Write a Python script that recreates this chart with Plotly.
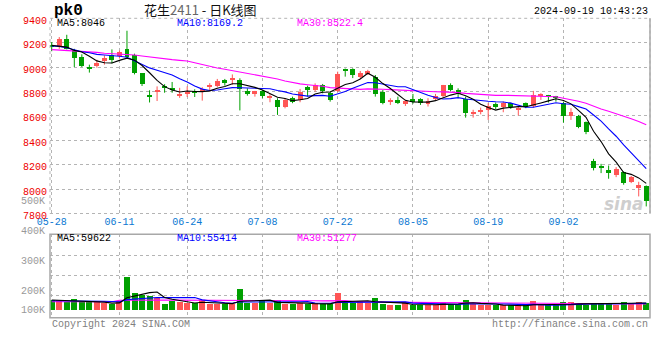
import plotly.graph_objects as go

# ---------------- data ----------------
dates = ["05-28", "05-29", "05-30", "05-31",
         "06-03", "06-04", "06-05", "06-06", "06-07",
         "06-11", "06-12", "06-13", "06-14",
         "06-17", "06-18", "06-19", "06-20", "06-21",
         "06-24", "06-25", "06-26", "06-27", "06-28",
         "07-01", "07-02", "07-03", "07-04", "07-05",
         "07-08", "07-09", "07-10", "07-11", "07-12",
         "07-15", "07-16", "07-17", "07-18", "07-19",
         "07-22", "07-23", "07-24", "07-25", "07-26",
         "07-29", "07-30", "07-31", "08-01", "08-02",
         "08-05", "08-06", "08-07", "08-08", "08-09",
         "08-12", "08-13", "08-14", "08-15", "08-16",
         "08-19", "08-20", "08-21", "08-22", "08-23",
         "08-26", "08-27", "08-28", "08-29", "08-30",
         "09-02", "09-03", "09-04", "09-05", "09-06",
         "09-09", "09-10", "09-11", "09-12", "09-13",
         "09-18", "09-19"]

opens = [9180, 9165, 9227, 9137, 9083, 8995, 9003, 9047, 9096, 9091,
         9145, 9100, 8946, 8765, 8790, 8842, 8829, 8757, 8777, 8798,
         8800, 8838, 8846, 8889, 8898, 8895, 8805, 8780, 8799, 8750,
         8731, 8668, 8745, 8731, 8832, 8813, 8854, 8786, 8800, 8985,
         8985, 8917, 8944, 8917, 8794, 8720, 8726, 8692, 8736, 8736,
         8696, 8737, 8758, 8854, 8813, 8739, 8618, 8638, 8650, 8695,
         8672, 8704, 8655, 8704, 8677, 8764, 8767, 8758, 8704, 8595,
         8600, 8545, 8232, 8180, 8158, 8117, 8139, 8057, 8005, 8020]
highs = [9205, 9246, 9265, 9150, 9105, 9020, 9060, 9096, 9145, 9135,
         9298, 9110, 8950, 8810, 8842, 8860, 8878, 8830, 8842, 8818,
         8835, 8868, 8903, 8903, 8940, 8908, 8826, 8805, 8813, 8780,
         8745, 8745, 8758, 8821, 8848, 8867, 8862, 8800, 8963, 8988,
         8990, 8968, 8978, 8935, 8812, 8745, 8758, 8731, 8780, 8745,
         8745, 8780, 8854, 8867, 8826, 8758, 8650, 8668, 8704, 8710,
         8717, 8710, 8677, 8710, 8805, 8786, 8772, 8764, 8717, 8663,
         8608, 8554, 8248, 8207, 8193, 8180, 8145, 8109, 8060, 8030]
lows = [9130, 9150, 9145, 9000, 9000, 8955, 8995, 9020, 9030, 9070,
        9080, 8940, 8845, 8710, 8722, 8790, 8790, 8748, 8755, 8755,
        8725, 8800, 8835, 8848, 8855, 8645, 8766, 8758, 8745, 8712,
        8608, 8662, 8704, 8712, 8758, 8799, 8785, 8717, 8795, 8922,
        8910, 8903, 8935, 8758, 8695, 8690, 8697, 8682, 8700, 8690,
        8677, 8725, 8752, 8800, 8745, 8586, 8586, 8613, 8567, 8655,
        8630, 8657, 8603, 8663, 8668, 8731, 8710, 8717, 8545, 8567,
        8499, 8450, 8153, 8131, 8085, 8098, 8036, 8049, 7940, 7858]
closes = [9160, 9227, 9150, 9069, 9010, 8990, 9035, 9075, 9056, 9120,
          9083, 8950, 8856, 8760, 8810, 8823, 8812, 8777, 8796, 8793,
          8818, 8842, 8886, 8868, 8902, 8818, 8781, 8799, 8758, 8755,
          8668, 8731, 8712, 8794, 8808, 8854, 8800, 8726, 8942, 8963,
          8930, 8949, 8963, 8780, 8704, 8725, 8705, 8723, 8710, 8705,
          8723, 8764, 8848, 8813, 8778, 8622, 8624, 8643, 8676, 8672,
          8704, 8668, 8660, 8668, 8767, 8769, 8753, 8746, 8595, 8630,
          8505, 8466, 8172, 8175, 8126, 8164, 8044, 8095, 8030, 7900]
volumes = [82000, 82000, 61000, 89500, 61000, 61000, 61000, 56000, 51000, 69000,
           258000, 135000, 117000, 112000, 92000, 51000, 69000, 61000, 56000, 59000,
           76500, 51000, 51000, 46000, 46000, 166000, 56000, 56000, 69000, 56000,
           82000, 51000, 51000, 56000, 51000, 56000, 46000, 51000, 135000, 61000,
           56000, 74000, 56000, 97000, 51000, 43600, 43600, 56000, 43600, 43600,
           43600, 43600, 66600, 51000, 51000, 82000, 51000, 43600, 43600, 38300,
           38300, 38300, 38300, 38300, 74000, 38300, 38300, 38300, 66600, 66600,
           51000, 38300, 59000, 59000, 59000, 43600, 66600, 59000, 66600, 59000]

# moving-average values at the left edge (they depend on days before the window)
ma5_head = [9178, 9173, 9164, 9137]
ma10_head = [9173, 9170, 9159, 9143, 9126, 9118, 9104, 9099, 9096]
ma30_head = [9143, 9140, 9137, 9134, 9132, 9129, 9121, 9113, 9110, 9104,
             9102, 9099, 9091, 9083, 9072, 9066, 9061, 9055, 9050, 9035,
             9020, 9005, 8993, 8982, 8971, 8960, 8950, 8940, 8930]
vma5_head = [82000, 80000, 78000, 78000]
vma10_head = [76000, 76000, 76000, 75000, 75000, 74000, 73000, 72000, 70000]
vma30_head = [69000, 69000, 69000, 69000, 69000, 69000, 69000, 69000, 69000, 80000,
              81000, 81000, 81000, 81000, 81000, 81000, 81000, 81000, 81000, 80000,
              80000, 80000, 80000, 79000, 79000, 79000, 79000, 79000, 79000]

axis_dates = ["05-28", "06-11", "06-24", "07-08", "07-22", "08-05", "08-19", "09-02"]
price_ticks = [7800, 8000, 8200, 8400, 8600, 8800, 9000, 9200, 9400]
vol_labels = ["500K", "400K", "300K", "200K", "100K"]

title_code = "pk0"
title_text = "花生<span style='color:#666'>2411</span> - 日K线图"
timestamp = "2024-09-19 10:43:23"
price_legend = ["MA5:8046", "MA10:8169.2", "MA30:8522.4"]
vol_legend = ["MA5:59622", "MA10:55414", "MA30:51277"]

# ---------------- styling ----------------
RED = "#ff5555"
GREEN = "#00a000"
MA_COLORS = ["#000000", "#0000ff", "#ff00ff"]
GRID = "#b4b4b4"
BORDER = "#a8a8a8"
MONO = "Liberation Mono"
W, H = 660, 360
PX_L, PX_R = 50, 650
PRICE_TOP, PRICE_BOT = 18.3, 213.5
VOL_TOP, VOL_BOT, VOL_BASE = 234.3, 317.7, 310.7
VOL_PER_PX = 7650


def fx(px):
    return px / W


def fy(py):
    return 1 - py / H


def moving(values, n, head):
    out = list(head)
    for i in range(len(head), len(values)):
        seg = values[i - n + 1:i + 1]
        out.append(sum(seg) / len(seg))
    return out


up = [c >= o for o, c in zip(opens, closes)]
colors = [RED if u else GREEN for u in up]

fig = go.Figure()

# wicks
for flag, col in [(True, RED), (False, GREEN)]:
    xs, ys = [], []
    for d, hi, lo, u in zip(dates, highs, lows, up):
        if u == flag:
            xs += [d, d, None]
            ys += [lo, hi, None]
    fig.add_trace(go.Scatter(x=xs, y=ys, mode="lines", line=dict(color=col, width=1),
                             xaxis="x", yaxis="y", showlegend=False, hoverinfo="skip"))

# bodies
bases, heights = [], []
for o, c in zip(opens, closes):
    lo, hi = min(o, c), max(o, c)
    if hi - lo < 9:
        mid = (o + c) / 2
        lo, hi = mid - 4.5, mid + 4.5
    bases.append(lo)
    heights.append(hi - lo)
fig.add_trace(go.Bar(x=dates, y=heights, base=bases, width=0.66,
                     marker=dict(color=colors, line=dict(width=0)),
                     xaxis="x", yaxis="y", showlegend=False, hoverinfo="skip"))

# price MAs
for n, head, col in [(30, ma30_head, MA_COLORS[2]), (10, ma10_head, MA_COLORS[1]),
                     (5, ma5_head, MA_COLORS[0])]:
    fig.add_trace(go.Scatter(x=dates, y=moving(closes, n, head), mode="lines",
                             line=dict(color=col, width=1.1),
                             xaxis="x", yaxis="y", showlegend=False, hoverinfo="skip"))

# volume bars
fig.add_trace(go.Bar(x=dates, y=volumes, width=0.8,
                     marker=dict(color=colors, line=dict(width=0)),
                     xaxis="x2", yaxis="y2", showlegend=False, hoverinfo="skip"))
for n, head, col in [(30, vma30_head, MA_COLORS[2]), (10, vma10_head, MA_COLORS[1]),
                     (5, vma5_head, MA_COLORS[0])]:
    fig.add_trace(go.Scatter(x=dates, y=moving(volumes, n, head), mode="lines",
                             line=dict(color=col, width=1.1),
                             xaxis="x2", yaxis="y2", showlegend=False, hoverinfo="skip"))

vol_lo = -(VOL_BOT - VOL_BASE) * VOL_PER_PX
vol_hi = (VOL_BASE - VOL_TOP) * VOL_PER_PX
vol_grid = [(VOL_BASE - py) * VOL_PER_PX for py in (255, 275, 295)]

common_x = dict(type="category", categoryorder="array", categoryarray=dates,
                range=[-0.23, 79.5], domain=[fx(PX_L), fx(PX_R)], automargin=False,
                tickvals=axis_dates, showgrid=True, gridcolor=GRID, griddash="dot",
                gridwidth=1, zeroline=False, showline=False, ticks="")

fig.update_layout(
    width=W, height=H, margin=dict(l=0, r=0, t=0, b=0, autoexpand=False),
    paper_bgcolor="white", plot_bgcolor="white", hovermode=False,
    bargap=0, barmode="overlay",
    xaxis=dict(**common_x, anchor="y", showticklabels=True, ticktext=axis_dates,
               tickfont=dict(family=MONO, size=10, color="#0a78d2")),
    yaxis=dict(domain=[fy(PRICE_BOT), fy(PRICE_TOP)], range=[7800, 9400], automargin=False,
               tickvals=price_ticks, showgrid=True, gridcolor=GRID, griddash="dot",
               zeroline=False, showline=False, ticks="",
               tickfont=dict(family=MONO, size=10, color="#ee0000"),
               ticklabelshift=2, ticklabelstandoff=2),
    xaxis2=dict(**common_x, anchor="y2", matches="x", showticklabels=False),
    yaxis2=dict(domain=[fy(VOL_BOT), fy(VOL_TOP)], range=[vol_lo, vol_hi], automargin=False,
                tickvals=vol_grid, showticklabels=False, showgrid=True,
                gridcolor=GRID, griddash="dot", zeroline=False, showline=False, ticks=""),
)

shapes = [
    dict(type="rect", xref="paper", yref="paper", x0=fx(PX_L), x1=fx(PX_R),
         y0=fy(PRICE_BOT), y1=fy(PRICE_TOP), line=dict(color=GRID, width=1, dash="dot")),
    dict(type="line", xref="paper", yref="paper", x0=fx(PX_R), x1=fx(PX_R),
         y0=fy(PRICE_BOT), y1=fy(PRICE_TOP), line=dict(color=BORDER, width=1.5)),
    dict(type="rect", xref="paper", yref="paper", x0=fx(PX_L), x1=fx(PX_R),
         y0=fy(VOL_BOT), y1=fy(VOL_TOP), line=dict(color=BORDER, width=1.5)),
]
fig.update_layout(shapes=shapes)

ann = []


def text(s, x, y, color="#000", size=10, anchor="left", family=MONO, bold=False):
    ann.append(dict(text=("<b>%s</b>" % s) if bold else s, x=fx(x), y=fy(y),
                    xref="paper", yref="paper", xanchor=anchor, yanchor="middle",
                    showarrow=False, font=dict(family=family, size=size, color=color)))


text(title_code, 52, 11, size=16, bold=True)
text(title_text, 200, 9, size=13, anchor="center", family="Noto Sans CJK SC", color="#111")
text(timestamp, 650, 12, anchor="right")
for s, x, c in zip(price_legend, (55, 175, 295), MA_COLORS):
    text(s, x, 24, color=c)
for s, x, c in zip(vol_legend, (55, 175, 295), MA_COLORS):
    text(s, x, 238, color=c)
for s, y in zip(vol_labels, (201, 231, 261, 291, 310)):
    text(s, 47, y, color="#999999", anchor="right")
text("Copyright 2024 SINA.COM", 50, 324, color="#808080")
text("http://finance.sina.com.cn", 650, 324, color="#808080", anchor="right")
text("<i>sina</i>", 624, 204, color="rgba(190,190,190,0.75)", size=17,
     anchor="center", family="DejaVu Sans", bold=True)
fig.update_layout(annotations=ann)

fig.write_html("out.html", config={"displayModeBar": False},
               post_script="document.body.style.margin='0';document.body.style.padding='0';")
